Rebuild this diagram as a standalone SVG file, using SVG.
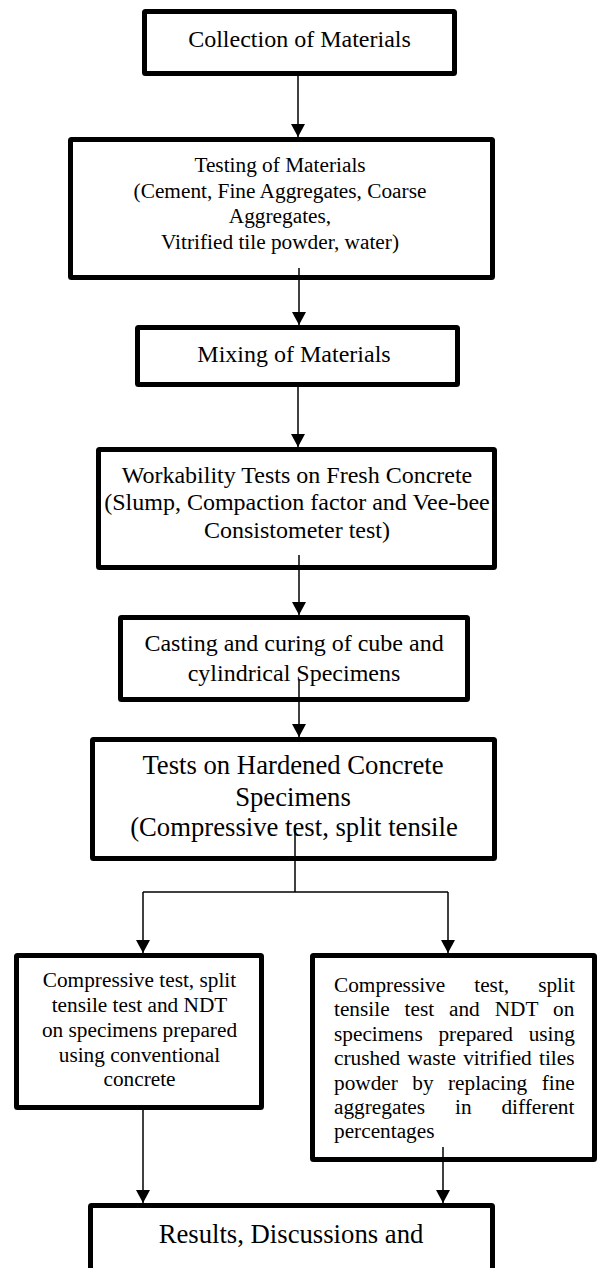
<svg xmlns="http://www.w3.org/2000/svg" width="597" height="1268" viewBox="0 0 597 1268">
<style>
.box{fill:#fff;stroke:#000;stroke-width:5;stroke-linejoin:round}
text{font-family:"Liberation Serif","Times New Roman",serif;fill:#000}
.c{text-anchor:middle}
.f24{font-size:24px}
.f21{font-size:21.3px}
.f27{font-size:26.7px}
.con{fill:none;stroke:#000;stroke-width:1.5}
</style>
<defs>
<marker id="ah" markerUnits="userSpaceOnUse" markerWidth="13" markerHeight="14" refX="13" refY="7" orient="auto">
<path d="M0,0 L13,7 L0,14 z" fill="#000"/>
</marker>
</defs>
<rect width="597" height="1268" fill="#fff"/>
<g id="n1">
<rect class="box" x="144.5" y="11.5" width="310" height="62" rx="1"/>
<text class="c f24" x="299.5" y="47">Collection of Materials</text>
</g>
<g id="n2">
<rect class="box" x="70.5" y="139.5" width="422" height="138" rx="1"/>
<text class="c f21" x="280" y="172">Testing of Materials</text>
<text class="c f21" x="280" y="198">(Cement, Fine Aggregates, Coarse</text>
<text class="c f21" x="280" y="223">Aggregates,</text>
<text class="c f21" x="280" y="249">Vitrified tile powder, water)</text>
</g>
<g id="n3">
<rect class="box" x="137.5" y="327.5" width="320" height="57" rx="1"/>
<text class="c f24" x="294" y="362">Mixing of Materials</text>
</g>
<g id="n4">
<rect class="box" x="98.5" y="449.5" width="396" height="118" rx="1"/>
<text class="c f24" x="297" y="482.5">Workability Tests on Fresh Concrete</text>
<text class="c f24" x="297" y="510">(Slump, Compaction factor and Vee-bee</text>
<text class="c f24" x="297" y="538">Consistometer test)</text>
</g>
<g id="n5">
<rect class="box" x="120.5" y="617.5" width="347" height="82" rx="1"/>
<text class="c f24" x="294" y="651">Casting and curing of cube and</text>
<text class="c f24" x="294" y="681">cylindrical Specimens</text>
</g>
<g id="n6">
<rect class="box" x="92.5" y="739.5" width="402" height="119" rx="1"/>
<text class="c f27" x="293" y="774">Tests on Hardened Concrete</text>
<text class="c f27" x="293" y="806">Specimens</text>
<text class="c f27" x="294" y="836">(Compressive test, split tensile</text>
</g>
<g id="n7">
<rect class="box" x="16.5" y="955.5" width="245" height="152" rx="1"/>
<text class="c f21" x="139.5" y="987">Compressive test, split</text>
<text class="c f21" x="139.5" y="1012">tensile test and NDT</text>
<text class="c f21" x="139.5" y="1037">on specimens prepared</text>
<text class="c f21" x="139.5" y="1062">using conventional</text>
<text class="c f21" x="139.5" y="1086">concrete</text>
</g>
<g id="n8">
<rect class="box" x="312.5" y="955.5" width="282" height="204" rx="1"/>
<text class="f21" x="334" y="992" word-spacing="23.7">Compressive test, split</text>
<text class="f21" x="334" y="1016" word-spacing="9.6">tensile test and NDT on</text>
<text class="f21" x="334" y="1041" word-spacing="10.4">specimens prepared using</text>
<text class="f21" x="334" y="1065" word-spacing="1.9">crushed waste vitrified tiles</text>
<text class="f21" x="334" y="1090" word-spacing="9.1">powder by replacing fine</text>
<text class="f21" x="334" y="1114" word-spacing="24.6">aggregates in different</text>
<text class="f21" x="334" y="1138">percentages</text>
</g>
<g id="n9">
<rect class="box" x="90.5" y="1205.5" width="402" height="80" rx="1"/>
<text class="c f27" x="291" y="1243">Results, Discussions and</text>
</g>
<g id="connectors">
<line class="con" x1="298" y1="76" x2="298" y2="137" marker-end="url(#ah)"/>
<line class="con" x1="299" y1="268" x2="299" y2="325" marker-end="url(#ah)"/>
<line class="con" x1="298" y1="387" x2="298" y2="447" marker-end="url(#ah)"/>
<line class="con" x1="299" y1="555" x2="299" y2="615" marker-end="url(#ah)"/>
<line class="con" x1="299" y1="680" x2="299" y2="737" marker-end="url(#ah)"/>
<line class="con" x1="295" y1="825" x2="295" y2="892"/>
<line class="con" x1="143" y1="892" x2="448" y2="892"/>
<line class="con" x1="143" y1="892" x2="143" y2="953" marker-end="url(#ah)"/>
<line class="con" x1="448" y1="892" x2="448" y2="953" marker-end="url(#ah)"/>
<line class="con" x1="143" y1="1110" x2="143" y2="1203" marker-end="url(#ah)"/>
<line class="con" x1="443" y1="1147" x2="443" y2="1203" marker-end="url(#ah)"/>
</g>
</svg>
